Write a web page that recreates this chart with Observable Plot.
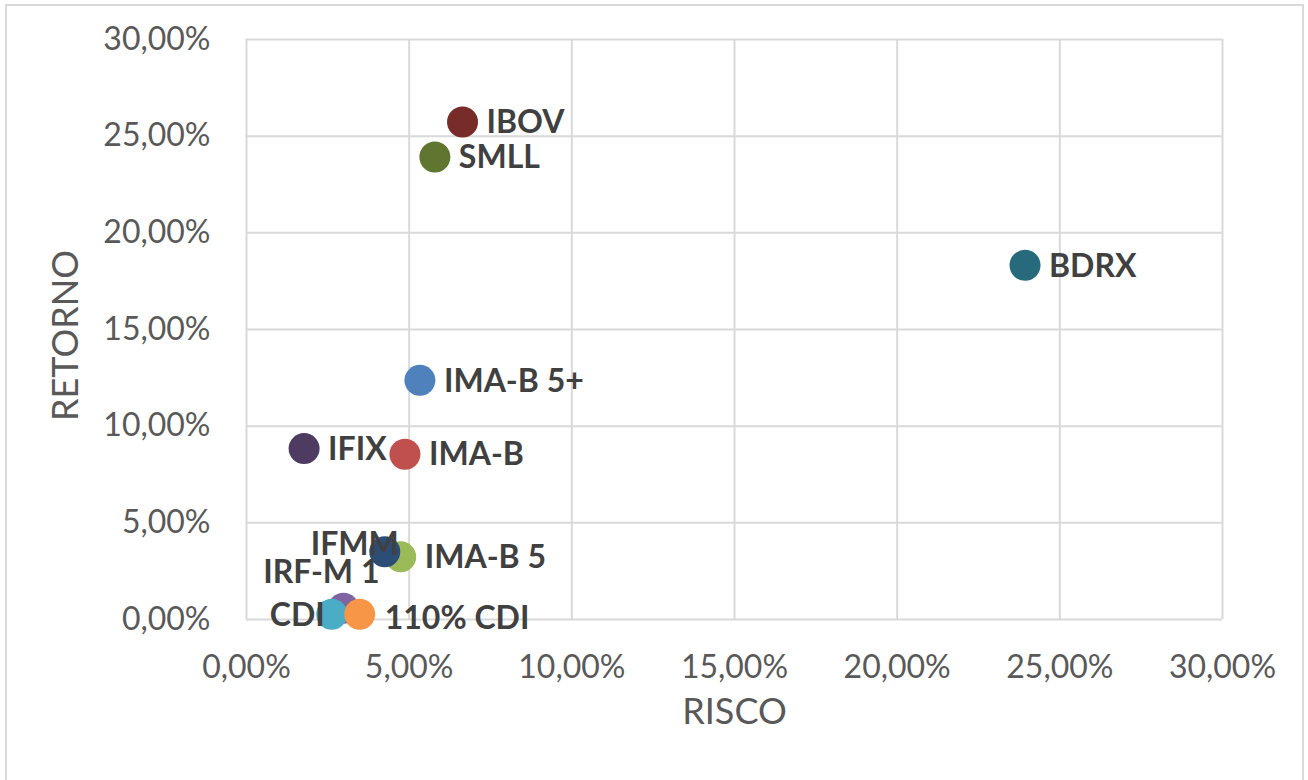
<!DOCTYPE html>
<html>
<head>
<meta charset="utf-8">
<script src="https://cdn.jsdelivr.net/npm/d3@7"></script>
<script src="https://cdn.jsdelivr.net/npm/@observablehq/plot@0.6"></script>
<style>
  html, body { margin: 0; padding: 0; background: #fff; overflow: hidden; }
  #wrap { position: relative; width: 1308px; height: 780px; }
  #border { position: absolute; left: 5px; top: 4px; width: 1299px; height: 790px; border: 2px solid #d9d9d9; box-sizing: border-box; }
  #chart { position: absolute; left: 0; top: 0; }
</style>
</head>
<body>
<div id="wrap"><div id="border"></div><div id="chart"></div></div>
<script>
const names   = ["IBOV", "SMLL", "BDRX", "IMA-B 5+", "IFIX", "IMA-B", "IMA-B 5", "IFMM", "IRF-M 1", "CDI", "110% CDI"];
const risco   = [6.64, 5.79, 23.93, 5.33, 1.77, 4.87, 4.74, 4.25, 2.98, 2.62, 3.48];
const retorno = [25.73, 23.92, 18.32, 12.37, 8.84, 8.55, 3.24, 3.50, 0.58, 0.27, 0.27];
const colors  = ["#772C2A", "#5F7530", "#276A7C", "#4F81BD", "#4D3B62", "#C0504D", "#9BBB59", "#2C4D75", "#8064A2", "#4BACC6", "#F79646"];
const xTicks  = [0, 5, 10, 15, 20, 25, 30];
const yTicks  = [0, 5, 10, 15, 20, 25, 30];
const xTitle  = "RISCO";
const yTitle  = "RETORNO";

const data = names.map((n, i) => ({name: n, risco: risco[i], retorno: retorno[i], color: colors[i]}));

// label placement (style config)
const defaultPlace = {anchor: "start", dx: 24, dy: 1};
const place = {
  "IFMM": {anchor: "end", dx: 14, dy: -7},
  "IRF-M 1": {anchor: "end", dx: 36, dy: -36},
  "CDI": {anchor: "end", dx: -7, dy: 1},
  "110% CDI": {anchor: "start", dx: 25, dy: 4}
};

const fmt = d => d.toFixed(2).replace(".", ",") + "%";

const labelMarks = data.map(d => {
  const p = place[d.name] || defaultPlace;
  return Plot.text([d], {
    x: "risco", y: "retorno", text: "name",
    textAnchor: p.anchor, dx: p.dx, dy: p.dy,
    fill: "#404040", fontWeight: "bold", fontSize: 32
  });
});

const chart = Plot.plot({
  width: 1308,
  height: 780,
  marginLeft: 246,
  marginRight: 86,
  marginTop: 39,
  marginBottom: 161,
  style: {fontFamily: "Lato, 'Open Sans', sans-serif", fontSize: "32px", color: "#595959", background: "transparent"},
  x: {domain: [0, 30], ticks: xTicks, tickFormat: fmt},
  y: {domain: [0, 30], ticks: yTicks, tickFormat: fmt},
  color: {type: "identity"},
  marks: [
    Plot.gridX(xTicks, {stroke: "#d9d9d9", strokeOpacity: 1, strokeWidth: 2}),
    Plot.gridY(yTicks, {stroke: "#d9d9d9", strokeOpacity: 1, strokeWidth: 2}),
    Plot.axisX(xTicks, {tickSize: 0, tickPadding: 36, tickFormat: fmt, label: null, fill: "#595959"}),
    Plot.axisY(yTicks, {tickSize: 0, tickPadding: 36, tickFormat: fmt, label: null, fill: "#595959"}),
    Plot.dot(data, {x: "risco", y: "retorno", r: 15.5, fill: "color", stroke: null}),
    ...labelMarks,
    Plot.text([xTitle], {frameAnchor: "bottom", dy: 104, text: d => d, fontSize: 36, fill: "#595959"}),
    Plot.text([yTitle], {frameAnchor: "left", textAnchor: "middle", dx: -180, dy: 6, rotate: -90, text: d => d, fontSize: 36, fill: "#595959"})
  ]
});
document.getElementById("chart").appendChild(chart);
</script>
</body>
</html>
